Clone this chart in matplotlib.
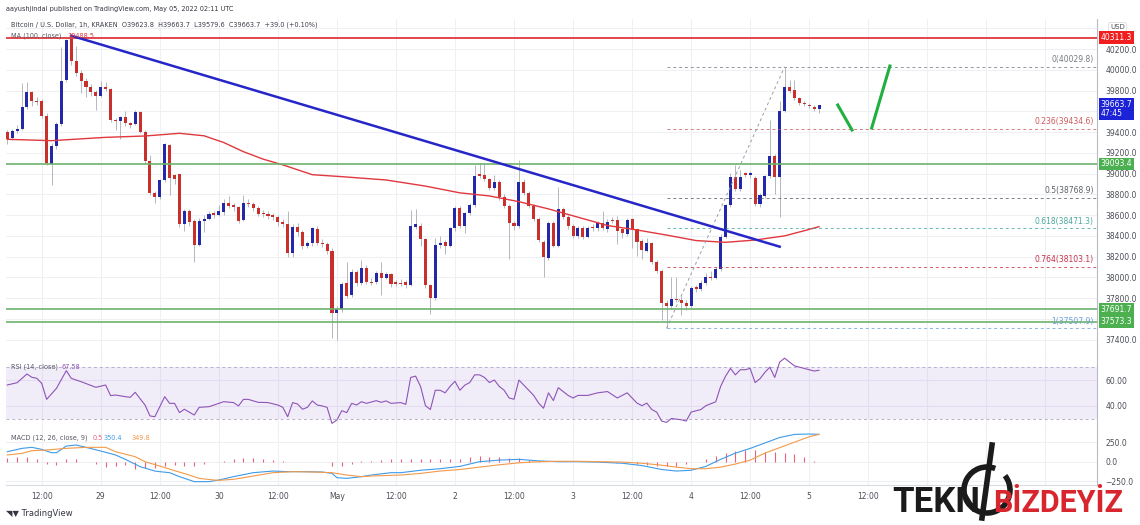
import numpy as np
import matplotlib.pyplot as plt
from matplotlib.patches import Arc
from matplotlib.transforms import blended_transform_factory

plt.rcParams['font.family'] = ['DejaVu Sans']

# Bitcoin / USD, 1h candles, Apr 28 05:00 -> May 5 02:00 (UTC)
opens = [39405, 39340, 39414, 39430, 39646, 39784, 39705, 39700, 39559, 39090,
         39270, 39475, 39903, 40300, 40086, 39967, 39896, 39839, 39790, 39752,
         39832, 39816, 39520, 39510, 39543, 39485, 39479, 39598, 39405, 39122,
         38810, 38778, 38939, 39276, 38990, 38997, 38514, 38643, 38543, 38312,
         38547, 38566, 38617, 38601, 38633, 38714, 38700, 38675, 38553, 38720,
         38704, 38666, 38620, 38608, 38598, 38585, 38537, 38514, 38238, 38489,
         38441, 38302, 38335, 38466, 38330, 38322, 38257, 37660, 37692, 37949,
         37830, 38055, 37942, 38087, 37960, 37958, 38045, 37995, 38029, 37955,
         37950, 37955, 37930, 38489, 38495, 38367, 37926, 37798, 38312, 38344,
         38302, 38473, 38672, 38495, 38617, 38698, 38993, 38985, 38945, 38858,
         38923, 38778, 38691, 38521, 38495, 38923, 38817, 38691, 38559, 38344,
         38183, 38521, 38302, 38659, 38585, 38495, 38399, 38479, 38392, 38489,
         38473, 38527, 38466, 38553, 38553, 38463, 38418, 38559, 38463, 38351,
         38257, 38328, 38151, 38064, 37756, 37724, 37795, 37782, 37756, 37724,
         37904, 37885, 37942, 38007, 37991, 38077, 38392, 38698, 38971, 38849,
         39003, 38987, 38955, 38707, 38788, 38977, 39170, 38971, 39604, 39832,
         39806, 39726, 39684, 39662, 39639, 39624]
closes = [39331, 39411, 39430, 39646, 39784, 39700, 39695, 39559, 39099, 39270,
          39479, 39896, 40289, 40086, 39967, 39896, 39839, 39790, 39752, 39832,
          39816, 39517, 39510, 39543, 39485, 39479, 39598, 39405, 39122, 38810,
          38778, 38939, 39286, 38955, 38945, 38514, 38643, 38537, 38312, 38547,
          38566, 38608, 38598, 38640, 38714, 38691, 38675, 38547, 38720, 38704,
          38666, 38611, 38608, 38598, 38585, 38537, 38514, 38238, 38489, 38441,
          38302, 38335, 38473, 38328, 38322, 38257, 37660, 37692, 37936, 37820,
          38055, 37942, 38087, 37958, 37955, 38039, 37991, 38029, 37936, 37938,
          37936, 37930, 38495, 38514, 38367, 37926, 37798, 38312, 38328, 38302,
          38473, 38672, 38495, 38617, 38698, 38977, 38980, 38945, 38858, 38923,
          38778, 38691, 38521, 38495, 38923, 38817, 38691, 38559, 38360, 38193,
          38521, 38302, 38659, 38585, 38495, 38399, 38479, 38392, 38479, 38473,
          38521, 38475, 38537, 38543, 38447, 38424, 38553, 38463, 38338, 38264,
          38328, 38151, 38064, 37756, 37724, 37788, 37782, 37756, 37724, 37894,
          37885, 37949, 38007, 37994, 38077, 38392, 38698, 38971, 38849, 38971,
          38987, 39003, 38707, 38794, 38977, 39170, 38971, 39604, 39832, 39797,
          39726, 39684, 39671, 39652, 39623, 39664]
highs = [39420, 39430, 39470, 39870, 39880, 39800, 39740, 39720, 39580, 39300,
         39500, 40220, 40300, 40337, 40230, 40000, 39920, 39860, 39810, 39890,
         39880, 39830, 39540, 39560, 39600, 39500, 39610, 39600, 39420, 39180,
         38830, 38950, 39300, 39290, 39000, 39000, 38660, 38660, 38560, 38570,
         38600, 38640, 38640, 38700, 38760, 38780, 38720, 38690, 38790, 38760,
         38730, 38690, 38650, 38640, 38620, 38600, 38560, 38640, 38510, 38520,
         38460, 38350, 38490, 38500, 38370, 38340, 38280, 37720, 37960, 38150,
         38080, 38070, 38170, 38120, 37990, 38060, 38150, 38050, 38040, 37970,
         37980, 37970, 38650, 38660, 38520, 38380, 37940, 38380, 38400, 38360,
         38490, 38690, 38690, 38630, 38720, 39083, 39106, 39100, 38960, 38990,
         38940, 38800, 38710, 38540, 39131, 38950, 38830, 38710, 38580, 38360,
         38540, 38540, 38874, 38680, 38600, 38510, 38500, 38500, 38500, 38510,
         38540, 38640, 38560, 38580, 38590, 38480, 38570, 38570, 38480, 38370,
         38380, 38340, 38170, 38080, 37780, 38000, 38007, 37820, 37780, 37920,
         37930, 37970, 38040, 38060, 38100, 38420, 38710, 39010, 39083, 39040,
         39020, 39030, 38980, 38810, 38990, 39517, 39190, 39700, 40030, 39900,
         39900, 39740, 39700, 39680, 39660, 39664]
lows = [39290, 39320, 39395, 39420, 39620, 39650, 39660, 39540, 39080, 38890,
        39240, 39460, 39880, 40050, 39940, 39780, 39740, 39750, 39610, 39740,
        39800, 39500, 39420, 39330, 39460, 39440, 39470, 39390, 39100, 38790,
        38720, 38760, 38920, 38790, 38900, 38490, 38450, 38500, 38150, 38300,
        38440, 38550, 38570, 38590, 38600, 38670, 38640, 38520, 38540, 38680,
        38640, 38590, 38580, 38560, 38550, 38500, 38490, 38200, 38200, 38400,
        38270, 38280, 38300, 38310, 38290, 38230, 37420, 37400, 37670, 37800,
        37810, 37920, 37930, 37940, 37930, 37940, 37830, 37980, 37910, 37920,
        37920, 37900, 37920, 38470, 38300, 37900, 37650, 37780, 38280, 38230,
        38290, 38450, 38480, 38430, 38600, 38680, 38960, 38930, 38840, 38840,
        38750, 38670, 38180, 38460, 38480, 38790, 38670, 38540, 38340, 38007,
        38170, 38290, 38290, 38560, 38470, 38380, 38380, 38370, 38380, 38450,
        38450, 38460, 38440, 38520, 38320, 38380, 38400, 38280, 38210, 38180,
        38240, 38130, 38040, 37590, 37508, 37700, 37760, 37640, 37690, 37700,
        37860, 37870, 37930, 37970, 37980, 38060, 38380, 38680, 38830, 38830,
        38970, 38960, 38690, 38680, 38770, 38960, 38800, 38585, 39590, 39780,
        39710, 39660, 39650, 39630, 39600, 39580]

# MA(100)
ma_idx = [0, 9, 20, 28, 35, 40, 44, 48, 52, 56, 62, 68, 77, 85, 92, 98, 104,
          110, 116, 122, 128, 134, 140, 146, 152, 158, 162, 165]
ma_val = [39331, 39318, 39350, 39363, 39389, 39365, 39300, 39212, 39140, 39085,
          38990, 38971, 38939, 38880, 38815, 38785, 38730, 38660, 38580, 38500,
          38457, 38408, 38355, 38338, 38360, 38400, 38450, 38489]

# RSI(14)
rsi_idx = [0, 2, 4, 5, 6, 7, 8, 10, 12, 13, 15, 18, 20, 21, 22, 24, 25, 26, 28,
           29, 30, 32, 33, 34, 35, 36, 38, 39, 41, 42, 44, 46, 47, 48, 49, 51,
           53, 55, 56, 57, 58, 59, 60, 61, 62, 63, 64, 65, 66, 67, 68, 69, 70,
           71, 72, 73, 75, 76, 77, 78, 80, 81, 82, 83, 84, 85, 86, 87, 88, 89,
           90, 91, 92, 93, 94, 95, 96, 97, 98, 99, 100, 101, 102, 103, 104,
           105, 106, 107, 108, 109, 110, 111, 112, 113, 114, 115, 116, 118,
           120, 122, 124, 126, 127, 128, 129, 130, 131, 132, 133, 134, 135,
           137, 138, 139, 141, 142, 144, 145, 146, 147, 148, 149, 150, 151,
           152, 153, 154, 155, 156, 157, 158, 159, 160, 161, 162, 163, 164, 165]
rsi_val = [56.1, 57.9, 64.7, 62.1, 61.3, 57.4, 44.9, 53.5, 67.3, 61.3, 58.7,
           54.3, 56.1, 47.8, 48.3, 47.0, 46.5, 50.4, 40.5, 32.0, 31.4, 47.0,
           41.8, 41.8, 34.6, 37.2, 32.7, 38.7, 39.2, 40.5, 43.1, 42.4, 39.8,
           44.9, 44.9, 42.6, 42.4, 40.5, 38.7, 31.4, 42.4, 41.3, 37.2, 38.7,
           43.7, 40.5, 39.8, 38.7, 26.2, 28.8, 36.1, 34.6, 41.8, 40.5, 43.1,
           41.8, 43.9, 42.6, 43.7, 41.8, 42.4, 41.0, 62.0, 63.0, 55.0, 40.0,
           37.0, 52.0, 52.0, 50.0, 55.0, 59.0, 52.0, 56.0, 58.0, 64.0, 64.0,
           62.0, 58.0, 60.0, 55.0, 52.0, 46.0, 45.0, 60.0, 56.0, 52.0, 48.0,
           42.0, 38.0, 50.0, 44.0, 54.0, 51.0, 48.0, 46.0, 48.0, 48.0, 50.0,
           51.0, 46.0, 50.0, 46.0, 42.0, 40.0, 42.0, 37.0, 35.0, 28.0, 27.0,
           30.0, 29.0, 28.0, 35.0, 37.0, 40.0, 43.0, 55.0, 63.0, 69.0, 64.0,
           68.0, 68.0, 69.0, 58.0, 61.0, 66.0, 70.0, 62.0, 74.0, 77.0, 74.0,
           71.0, 70.0, 69.0, 68.0, 67.0, 67.58]

# MACD(12, 26, 9)
macd_idx = [0, 3, 5, 7, 9, 10, 12, 14, 16, 19, 22, 24, 27, 30, 31, 33, 35, 38,
            41, 43, 46, 50, 54, 57, 60, 64, 66, 67, 69, 72, 74, 78, 80, 84, 88,
            92, 96, 100, 104, 108, 112, 116, 120, 125, 129, 133, 136, 139, 142,
            145, 148, 151, 154, 157, 160, 163, 165]
macd_val = [128, 171, 184, 158, 115, 115, 201, 214, 184, 137, 86, 30, -64,
            -120, -128, -141, -192, -256, -256, -235, -192, -141, -120, -128,
            -128, -132, -150, -205, -214, -192, -171, -141, -141, -110, -90,
            -60, 0, 20, 30, 10, 0, 0, -5, -20, -50, -100, -120, -110, -60, 30,
            110, 170, 240, 310, 350, 355, 350.4]
sig_idx = [0, 3, 5, 8, 12, 16, 20, 22, 26, 28, 31, 34, 37, 39, 42, 43, 46, 50,
           54, 58, 62, 66, 69, 72, 74, 80, 84, 88, 92, 96, 100, 104, 108, 112,
           116, 120, 125, 129, 133, 136, 139, 142, 145, 148, 151, 154, 157,
           160, 163, 165]
sig_val = [86, 107, 141, 150, 171, 184, 184, 128, 64, 0, -56, -115, -171, -214,
           -235, -239, -226, -184, -141, -128, -132, -141, -171, -192, -184,
           -171, -150, -120, -100, -70, -40, -15, 0, 5, 5, 0, -5, -20, -45,
           -70, -90, -90, -70, -30, 20, 110, 180, 250, 320, 349.8]
hist_idx = list(range(0, 166, 2))
hist_val = [42, 60, 55, 30, -30, -43, 30, 36, 0, -34, -70, -55, -45, -95, -80,
            -82, -52, -45, -55, -51, -28, -10, 10, 35, 45, 43, 35, 21, 5, 0, 1,
            1, -5, -53, -54, -27, 3, 11, 25, 34, 35, 40, 40, 35, 30, 35, 40,
            55, 70, 65, 60, 53, 45, 27, 10, 2, -5, -5, -5, -6, -5, -8, -13,
            -20, -28, -38, -50, -55, -50, -30, 2, 30, 78, 115, 140, 145, 150,
            130, 125, 110, 100, 55, 12]

# trend line / fib anchors (candle index, price)
trend_x = [13, 157]
trend_y = [40330, 38296]
fib_levels = [0, 0.236, 0.5, 0.618, 0.764, 1]
fib_prices = [40029.8, 39434.6, 38768.9, 38471.3, 38103.1, 37507.9]
fib_colors = ['#787b86', '#d05a5a', '#5d606b', '#4aa79b', '#c8304a', '#6f9fd8']
fib_start = 134
fib_diag_x = [134, 158]
fib_diag_y = [37507.9, 40029.8]
arrow1_x, arrow1_y = [168.8, 171.7], [39662, 39421]
arrow2_x, arrow2_y = [175.7, 179.4], [39440, 40038]
hlines_green = [39093.4, 37691.7, 37573.3]
hline_red = 40311.3

price_ticks = [37400, 37800, 38000, 38200, 38400, 38600, 38800, 39000, 39200,
               39400, 39800, 40000, 40200]
tick_idx = [7, 19, 31, 43, 55, 67, 79, 91, 103, 115, 127, 139, 151, 163, 175]
tick_lbl = ['12:00', '29', '12:00', '30', '12:00', 'May', '12:00', '2', '12:00',
            '3', '12:00', '4', '12:00', '5', '12:00']
grid_idx = list(range(7, 222, 12))

BLUE = '#2228a8'
RED = '#c9302c'
GRID = '#eef0f4'
TXT = '#4a4d57'
FS = 4.7

W, H = 1140, 525
fig = plt.figure(figsize=(W / 100, H / 100), dpi=100)


def box(x0, y0, x1, y1):
    return [x0 / W, 1 - y1 / H, (x1 - x0) / W, (y1 - y0) / H]


ax = fig.add_axes(box(6, 19, 1097, 356))
ax_rsi = fig.add_axes(box(6, 356, 1097, 428), sharex=ax)
ax_macd = fig.add_axes(box(6, 428, 1097, 485), sharex=ax)

for a in (ax, ax_rsi, ax_macd):
    for s in ('top', 'left'):
        a.spines[s].set_visible(False)
    a.spines['right'].set_color('#b8bbc4')
    a.spines['bottom'].set_color('#d8dbe2')
    a.yaxis.tick_right()
    a.tick_params(axis='y', length=0, labelsize=5.5, labelcolor=TXT, pad=6)
    a.tick_params(axis='x', length=0)
    for g in grid_idx:
        a.axvline(g, color=GRID, lw=0.8, zorder=0)

ax.set_xlim(-0.26, 221.5)

# --- main pane
ax.set_ylim(37242, 40491)
ax.set_yticks(price_ticks)
ax.set_yticklabels(['%.1f' % p for p in price_ticks])
for p in range(37400, 40500, 200):
    ax.axhline(p, color=GRID, lw=0.8, zorder=0)
ax.tick_params(axis='x', labelbottom=False)

o = np.array(opens, float)
c = np.array(closes, float)
idx = np.arange(len(o))
body = c - o
body = np.where(np.abs(body) < 12, np.where(body >= 0, 12, -12), body)
ax.vlines(idx, lows, highs, color='#a9acb6', lw=0.6, zorder=2)
ax.bar(idx, body, bottom=o, width=0.62, color=np.where(c >= o, BLUE, RED),
       linewidth=0, zorder=3)

ax.plot(ma_idx, ma_val, color='#e0383e', lw=1.0, zorder=4)
ax.axhline(hline_red, color='#e0383e', lw=1.3, zorder=4)
for h in hlines_green:
    ax.axhline(h, color='#6db36d', lw=1.2, zorder=4)
ax.plot(trend_x, trend_y, color='#2626c8', lw=1.8, zorder=5)

for lvl, pr, col in zip(fib_levels, fib_prices, fib_colors):
    ax.plot([fib_start, 221.2], [pr, pr], color=col, lw=0.7, ls=(0, (3, 3)),
            alpha=0.8, zorder=4)
    ax.text(220.8, pr + 25, '%g(%.1f)' % (lvl, pr), color=col, fontsize=5.5,
            ha='right', va='bottom', zorder=6)
ax.plot(fib_diag_x, fib_diag_y, color='#9a9da6', lw=0.7, ls=(0, (3, 3)), zorder=4)
ax.plot(arrow1_x, arrow1_y, color='#1fb040', lw=2.2, zorder=5)
ax.plot(arrow2_x, arrow2_y, color='#1fb040', lw=2.2, zorder=5)

tr = blended_transform_factory(ax.transAxes, ax.transData)
badges = [(hline_red, '40311.3', '#f01e1e'), (39093.4, '39093.4', '#4caf50'),
          (37691.7, '37691.7', '#4caf50'), (37573.3, '37573.3', '#4caf50')]
for y, s, col in badges:
    ax.text(1.0035, y, s, transform=tr, fontsize=5.5, color='white', va='center',
            ha='left', bbox=dict(boxstyle='square,pad=0.25', fc=col, ec='none'),
            zorder=7, clip_on=False)
ax.text(1.0035, closes[-1] - 40, '39663.7\n47:45', transform=tr, fontsize=5.5,
        color='white', va='center', ha='left', linespacing=1.1,
        bbox=dict(boxstyle='square,pad=0.25', fc='#1c22d6', ec='none'),
        zorder=7, clip_on=False)
ax.text(1.012, 0.985, 'USD', transform=ax.transAxes, fontsize=5, color=TXT,
        va='top', ha='left', bbox=dict(boxstyle='round,pad=0.2', fc='white',
                                       ec='#d0d3da', lw=0.5))

# --- RSI pane
ax_rsi.set_ylim(22.6, 78.7)
ax_rsi.set_yticks([40, 60])
ax_rsi.set_yticklabels(['40.00', '60.00'])
ax_rsi.tick_params(axis='x', labelbottom=False)
ax_rsi.axhspan(30, 70, color='#7e57c2', alpha=0.1, lw=0, zorder=0)
for v in (40, 60):
    ax_rsi.axhline(v, color='#e4dcf2', lw=0.8, zorder=1)
for v in (30, 70):
    ax_rsi.axhline(v, color='#b9aed0', lw=0.7, ls=(0, (3, 3)), zorder=1)
ax_rsi.plot(rsi_idx, rsi_val, color='#8e54b8', lw=0.8, zorder=3)

# --- MACD pane
ax_macd.set_ylim(-299, 432)
ax_macd.set_yticks([-250, 0, 250])
ax_macd.set_yticklabels(['\u2212250.0', '0.0', '250.0'])
for v in (-250, 0, 250):
    ax_macd.axhline(v, color=GRID, lw=0.8, zorder=0)
ax_macd.vlines(hist_idx, 0, hist_val, color='#e8607e', lw=0.8, zorder=2)
ax_macd.plot(macd_idx, macd_val, color='#3d9be9', lw=0.8, zorder=3)
ax_macd.plot(sig_idx, sig_val, color='#f39a4a', lw=0.8, zorder=3)
ax_macd.set_xticks(tick_idx)
ax_macd.set_xticklabels(tick_lbl)
ax_macd.tick_params(axis='x', labelsize=5.5, labelcolor=TXT, pad=5)

# --- header / legends
fig.text(6 / W, 1 - 9 / H, 'aayushjindal published on TradingView.com, May 05, 2022 02:11 UTC',
         fontsize=FS, color='#333640', va='center')
fig.text(11 / W, 1 - 25 / H,
         'Bitcoin / U.S. Dollar, 1h, KRAKEN  O39623.8  H39663.7  L39579.6  C39663.7  +39.0 (+0.10%)',
         fontsize=FS, color='#3c3f4a', va='center')
fig.text(11 / W, 1 - 36 / H, 'MA (100, close)', fontsize=FS, color='#555862', va='center')
fig.text(68 / W, 1 - 36 / H, '38488.5', fontsize=FS, color='#e0383e', va='center')
fig.text(11 / W, 1 - 367 / H, 'RSI (14, close)', fontsize=FS, color='#555862', va='center')
fig.text(62 / W, 1 - 367 / H, '67.58', fontsize=FS, color='#8e54b8', va='center')
fig.text(11 / W, 1 - 438 / H, 'MACD (12, 26, close, 9)', fontsize=FS, color='#555862', va='center')
fig.text(93 / W, 1 - 438 / H, '0.5', fontsize=FS, color='#e8607e', va='center')
fig.text(104 / W, 1 - 438 / H, '350.4', fontsize=FS, color='#3d9be9', va='center')
fig.text(132 / W, 1 - 438 / H, '349.8', fontsize=FS, color='#f39a4a', va='center')
fig.text(6 / W, 1 - 513 / H, '\u25e5\u25bc TradingView', fontsize=6, color='#333640', va='center')

# watermark logo
fig.text(892 / W, 1 - 512 / H, 'TEKN', fontsize=25, fontweight='bold', color='#1b1b1b',
         va='baseline', family=['Roboto', 'DejaVu Sans'])
fig.text(993 / W, 1 - 512 / H, 'B\u0130ZDEY\u0130Z', fontsize=22, fontweight='bold',
         color='#d8262e', va='baseline', family=['Roboto', 'DejaVu Sans'])
ring = Arc((987 / W, 1 - 490 / H), 46 / W, 46 / H, theta1=80, theta2=420,
           transform=fig.transFigure, color='#1b1b1b', lw=4)
fig.add_artist(ring)
fig.add_artist(plt.Line2D([982 / W, 992 / W], [1 - 518 / H, 1 - 445 / H],
                          transform=fig.transFigure, color='#1b1b1b', lw=4))

fig.savefig('out.png', dpi=100)
